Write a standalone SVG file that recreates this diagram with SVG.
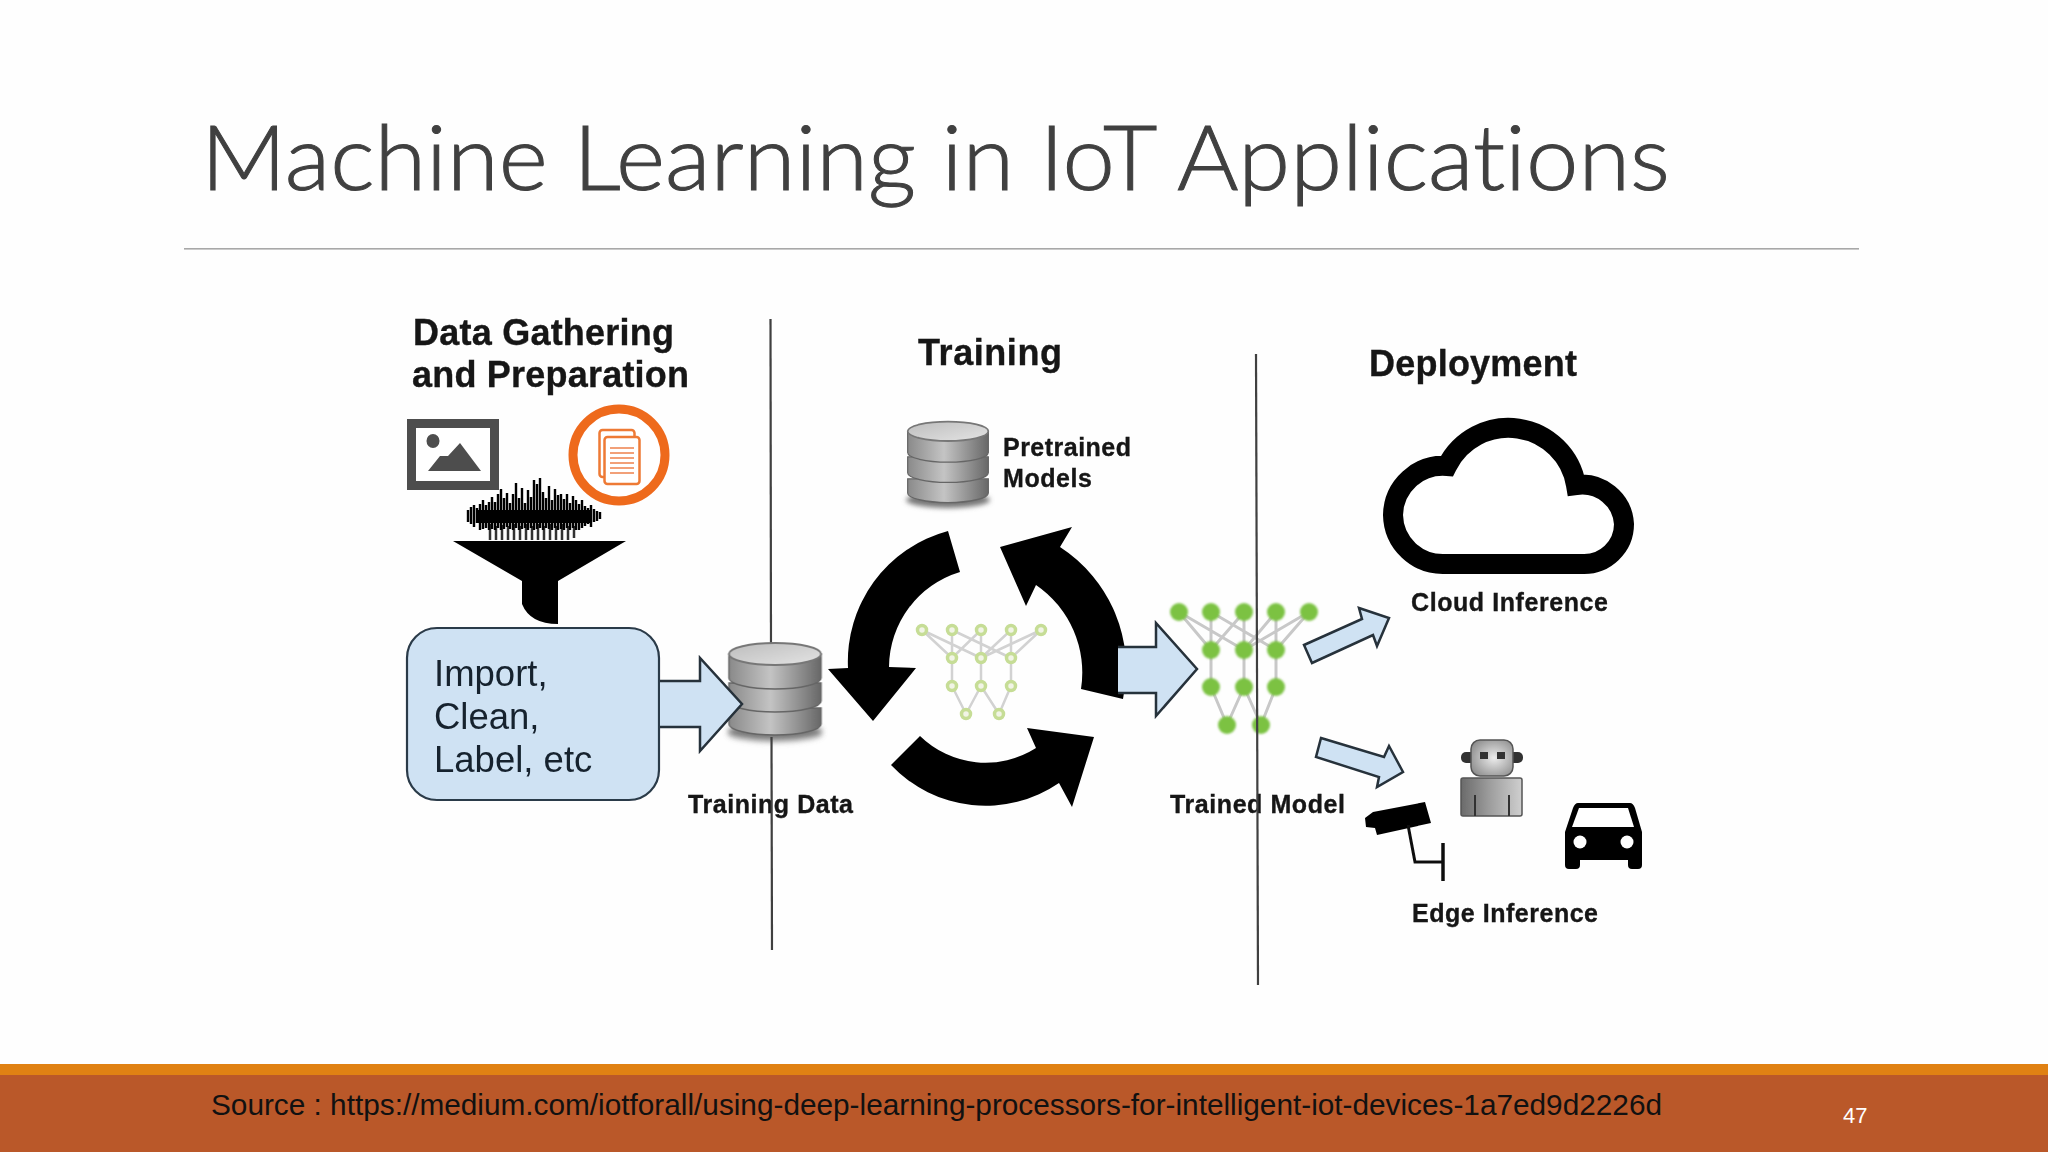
<svg xmlns="http://www.w3.org/2000/svg" width="2048" height="1152" viewBox="0 0 2048 1152">
<style>
.lbl{font-family:"Liberation Sans",Arial,sans-serif;font-weight:700;fill:#151515;stroke:#151515;stroke-width:.35}
.h{font-size:36px}
.s{font-size:25px}
.blk{fill:#000}
.arr{fill:#cfe2f3;stroke:#26303a;stroke-width:2.5;stroke-linejoin:miter}
.e1{stroke:#c8c8c8;stroke-width:3;fill:none}
.e2{stroke:#d2d2d2;stroke-width:2.5;fill:none}
.n1{fill:#7cc242}
.n2{fill:#f1f4e6;stroke:#c6dd96;stroke-width:3.5}
.sep{stroke:#3f3f3f;stroke-width:2.2;fill:none}
.t{font-family:"Liberation Sans",Arial,sans-serif;font-size:36.5px;fill:#16222e}
</style>
<defs>
<filter id="b" x="-5%" y="-5%" width="110%" height="110%"><feGaussianBlur stdDeviation="0.6"/></filter>
<filter id="b1" x="-10%" y="-20%" width="120%" height="140%"><feGaussianBlur stdDeviation="0.5"/></filter>
<filter id="b3" x="-30%" y="-100%" width="160%" height="300%"><feGaussianBlur stdDeviation="3"/></filter>
<filter id="g" x="-10%" y="-10%" width="120%" height="120%"><feGaussianBlur stdDeviation="1"/></filter>
<linearGradient id="dbg" x1="0" x2="1" y1="0" y2="0"><stop offset="0" stop-color="#8a8a8a"/><stop offset=".45" stop-color="#c4c4c4"/><stop offset="1" stop-color="#686868"/></linearGradient>
<linearGradient id="dbt" x1="0" x2="1" y1="0" y2="1"><stop offset="0" stop-color="#bdbdbd"/><stop offset="1" stop-color="#e4e4e4"/></linearGradient>
<radialGradient id="rh" cx=".55" cy=".5" r=".65"><stop offset="0" stop-color="#ececec"/><stop offset="1" stop-color="#8a8a8a"/></radialGradient>
<linearGradient id="rb" x1="0" x2="1" y1="0" y2="0"><stop offset="0" stop-color="#6a6a6a"/><stop offset=".5" stop-color="#a0a0a0"/><stop offset="1" stop-color="#cfcfcf"/></linearGradient>
<g id="db">
<ellipse cx="50" cy="92" rx="50" ry="9" fill="#777" filter="url(#b3)"/>
<path d="M2 68V84A48 11 0 0 0 98 84V68Z" fill="url(#dbg)" stroke="#666" stroke-width="1.5"/>
<path d="M2 43V61A48 11 0 0 0 98 61V43Z" fill="url(#dbg)" stroke="#666" stroke-width="1.5"/>
<path d="M2 14V38A48 11 0 0 0 98 38V14Z" fill="url(#dbg)" stroke="#666" stroke-width="1.5"/>
<ellipse cx="50" cy="14" rx="48" ry="11" fill="url(#dbt)" stroke="#777" stroke-width="2"/>
</g>
<g id="nn-small">
<path class="e2" d="M922 630L952 658M922 630L981 658M952 630L952 658M952 630L1011 658M981 630L952 658M981 630L981 658M1011 630L981 658M1011 630L1011 658M1041 630L981 658M1041 630L1011 658M952 658V686M981 658V686M1011 658V686M952 686L966 714M981 686L966 714M981 686L999 714M1011 686L999 714"/>
</g>
</defs>
<rect width="2048" height="1152" fill="#fefefe"/>
<g id="slide-title"><text x="201" y="190" font-family="Lato,'Open Sans',sans-serif" font-weight="300" font-size="90" fill="#404040" stroke="#404040" stroke-width="1" style="font-variant-ligatures:none" textLength="1469" lengthAdjust="spacingAndGlyphs">Machine Learning in IoT Applications</text>
<rect x="184" y="248" width="1675" height="1.6" fill="#a8a8a8"/></g>

<g filter="url(#b)">
<g id="heading-data"><text class="lbl h" x="413" y="345" textLength="261">Data Gathering</text><text class="lbl h" x="412" y="387" textLength="277">and Preparation</text></g>
<g id="heading-training"><text class="lbl h" x="918" y="365" textLength="144">Training</text></g>
<g id="heading-deployment"><text class="lbl h" x="1369" y="376" textLength="208">Deployment</text></g>

<g id="icon-image"><rect x="411.500" y="423.500" width="83" height="62" fill="#fff" stroke="#4d4d4d" stroke-width="9"/><ellipse cx="433" cy="441" rx="6.500" ry="7" fill="#4d4d4d"/><polygon points="428,471 440,456 448,456 460,443 481,471" fill="#4d4d4d"/></g>
<g id="icon-doc"><circle cx="619" cy="455" r="46" fill="#fff" stroke="#ee6a1f" stroke-width="9"/>
<rect x="599.500" y="430" width="35" height="47" rx="3" fill="#fff" stroke="#ee7a35" stroke-width="2.500"/><rect x="604.500" y="437" width="35" height="47" rx="3" fill="#fff" stroke="#ee7a35" stroke-width="2.500"/>
<path d="M610 448H634M610 453H634M610 458H634M610 463H634M610 468H634M610 473H634" stroke="#f2a078" stroke-width="1.800"/></g>
<g id="icon-audio" filter="url(#b1)">
<path d="M490 524V540M496 526V540M502 525V540M508 526V540M514 524V540M520 526V540M526 524V540M532 526V540M538 524V540M544 526V540M550 524V540M556 526V540M562 524V540M568 526V540M574 526V538" stroke="#333" stroke-width="2.500" fill="none"/>
<path d="M468 510V522M471 507V524M474 505V527M477 508V523M480 504V530M483 500V529M486 505V528M489 502V530M492 497V529M495 502V530M498 494V528M501 489V530M504 498V529M507 493V527M510 503V529M513 494V530M516 483V528M519 498V530M522 488V529M525 503V528M528 490V530M531 497V528M534 480V530M537 484V529M540 478V528M543 492V530M546 498V528M549 486V529M552 500V530M555 489V528M558 495V530M561 494V529M564 499V530M567 494V528M570 503V530M573 496V528M576 500V530M579 504V530M582 500V528M585 506V526M588 508V524M591 505V527M594 509V522M597 511V521M600 512V519" stroke="#000" stroke-width="2.400" fill="none"/>
<path d="M478 510H590V523H478Z" fill="#000"/></g>
<g id="funnel"><path class="blk" d="M453 541H626L558 581V624Q530 624 522 604V581Z"/></g>

<g id="separators-back"><path class="sep" d="M770.500 319L771 660"/></g>
<g id="box-import"><rect x="407" y="628" width="252" height="172" rx="30" fill="#cfe2f3" stroke="#2b3a48" stroke-width="2.200"/>
<text class="t" x="434" y="686">Import,</text>
<text class="t" x="434" y="729">Clean,</text>
<text class="t" x="434" y="772">Label, etc</text></g>

<g id="db-training"><use href="#db" transform="translate(727 640) scale(.96 1)"/></g>
<g id="db-pretrained"><use href="#db" transform="translate(906 419) scale(.84 .88)"/>
</g>

<g id="cycle">
<path class="blk" d="M948 531L960 572A100 100 0 0 0 889 667L916 668L873 721L828 669L848 668A135 135 0 0 1 948 531Z"/>
<path class="blk" d="M1123 699L1081 689A106 106 0 0 0 1036 585L1026 606L1000 547L1072 527L1060 547A145 145 0 0 1 1123 699Z"/>
<path class="blk" d="M891 765L920 736A94 94 0 0 0 1036 748L1027 728L1094 737L1072 807L1059 783A130 130 0 0 1 891 765Z"/>
</g>

<g id="nn-training"><use href="#nn-small"/>
<circle class="n2" cx="922" cy="630" r="4.500"/><circle class="n2" cx="952" cy="630" r="4.500"/><circle class="n2" cx="981" cy="630" r="4.500"/><circle class="n2" cx="1011" cy="630" r="4.500"/><circle class="n2" cx="1041" cy="630" r="4.500"/>
<circle class="n2" cx="952" cy="658" r="4.500"/><circle class="n2" cx="981" cy="658" r="4.500"/><circle class="n2" cx="1011" cy="658" r="4.500"/>
<circle class="n2" cx="952" cy="686" r="4.500"/><circle class="n2" cx="981" cy="686" r="4.500"/><circle class="n2" cx="1011" cy="686" r="4.500"/>
<circle class="n2" cx="966" cy="714" r="4.500"/><circle class="n2" cx="999" cy="714" r="4.500"/></g>

<g id="nn-trained">
<path class="e1" d="M1179 612L1211 650M1179 612L1244 650M1211 612V650M1211 612L1276 650M1244 612L1211 650M1244 612V650M1276 612L1244 650M1276 612V650M1309 612L1244 650M1309 612L1276 650M1211 650V687M1244 650V687M1276 650V687M1211 687L1227 725M1244 687L1227 725M1244 687L1261 725M1276 687L1261 725"/>
<g class="n1" filter="url(#g)"><circle cx="1179" cy="612" r="9"/><circle cx="1211" cy="612" r="9"/><circle cx="1244" cy="612" r="9"/><circle cx="1276" cy="612" r="9"/><circle cx="1309" cy="612" r="9"/>
<circle cx="1211" cy="650" r="9"/><circle cx="1244" cy="650" r="9"/><circle cx="1276" cy="650" r="9"/>
<circle cx="1211" cy="687" r="9"/><circle cx="1244" cy="687" r="9"/><circle cx="1276" cy="687" r="9"/>
<circle cx="1227" cy="725" r="9"/><circle cx="1261" cy="725" r="9"/></g></g>

<g id="connectors">
<path class="arr" d="M660 681H700V658L742 704L700 751V727H660" />
<path class="arr" d="M1118 647H1156V623L1197 669L1156 716V693H1118"/>
<polygon class="arr" points="1304,645 1362,619 1359,608 1389,618 1377,646 1373,635 1312,663"/>
<polygon class="arr" points="1321,738 1384,757 1389,746 1403,772 1377,787 1379,777 1316,757"/>
</g>

<g id="cloud"><path d="M1445 564H1582A40 40 0 0 0 1624 524A42 42 0 0 0 1576 485A68.500 68.500 0 0 0 1447 466A50 50 0 0 0 1393 515A50 50 0 0 0 1445 564Z" fill="#fff" stroke="#000" stroke-width="20" stroke-linejoin="miter"/></g>

<g id="robot"><rect x="1461" y="752" width="62" height="11" rx="5" fill="#333"/><rect x="1471" y="740" width="42" height="36" rx="9" fill="url(#rh)" stroke="#555" stroke-width="1.500"/><rect x="1480" y="752" width="8" height="7" fill="#333"/><rect x="1497" y="752" width="8" height="7" fill="#333"/>
<rect x="1461" y="778" width="61" height="38" rx="2" fill="url(#rb)" stroke="#555" stroke-width="1.500"/><path d="M1475 795V816M1509 795V816" stroke="#333" stroke-width="2"/></g>
<g id="camera"><polygon class="blk" points="1365,818 1373,812 1425,802 1431,823 1377,835 1375,828 1366,827"/><path d="M1408 825L1415 862H1443" stroke="#111" stroke-width="3" fill="none"/><path d="M1443 843V881" stroke="#111" stroke-width="3.500"/></g>
<g id="car"><path class="blk" d="M1578 803H1630Q1633 803 1635 808L1642 832V865Q1642 869 1638 869H1632Q1628 869 1628 865V860H1580V865Q1580 869 1576 869H1569Q1565 869 1565 865V832L1573 808Q1575 803 1578 803Z"/><polygon points="1579,808 1628,808 1634,827 1572,827" fill="#fff"/><circle cx="1580" cy="842" r="6.500" fill="#fff"/><circle cx="1627" cy="842" r="6.500" fill="#fff"/></g>

<g id="labels">
<text class="lbl s" x="688" y="813" textLength="165">Training Data</text>
<text class="lbl s" x="1003" y="456" textLength="128">Pretrained</text>
<text class="lbl s" x="1003" y="487" textLength="89">Models</text>
<text class="lbl s" x="1170" y="813" textLength="175">Trained Model</text>
<text class="lbl s" x="1411" y="611" textLength="197">Cloud Inference</text>
<text class="lbl s" x="1412" y="922" textLength="186">Edge Inference</text>
</g>

<g id="separators"><path class="sep" d="M771.500 737L772 950"/><path class="sep" d="M1256 354L1258 985"/></g>
</g>

<g id="footer"><rect y="1064" width="2048" height="11.500" fill="#e08113"/><rect y="1075" width="2048" height="77" fill="#ba5829"/>
<text x="211" y="1115" font-family="'Liberation Sans',Arial,sans-serif" font-size="30" fill="#111" textLength="1451" lengthAdjust="spacingAndGlyphs">Source : https://medium.com/iotforall/using-deep-learning-processors-for-intelligent-iot-devices-1a7ed9d2226d</text>
<text x="1843" y="1123" font-family="'Liberation Sans',Arial,sans-serif" font-size="22" fill="#fff">47</text></g>
</svg>
